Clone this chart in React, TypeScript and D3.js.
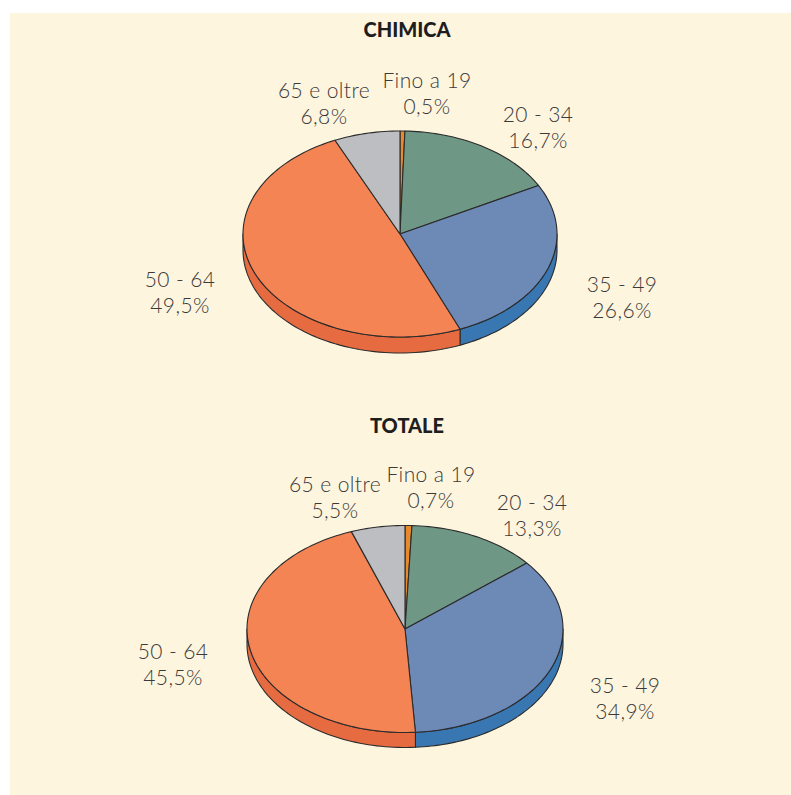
import React, { useEffect, useRef } from "react";
import * as d3 from "d3";

const categories = ["Fino a 19", "20 - 34", "35 - 49", "50 - 64", "65 e oltre"];
const chimicaValues = [0.5, 16.7, 26.6, 49.5, 6.8];
const totaleValues = [0.7, 13.3, 34.9, 45.5, 5.5];
const chimicaLabels = ["0,5%", "16,7%", "26,6%", "49,5%", "6,8%"];
const totaleLabels = ["0,7%", "13,3%", "34,9%", "45,5%", "5,5%"];

const TOP_COLORS = ["#E8892C", "#6F9786", "#6D8AB7", "#F58455", "#BDBEC1"];
const SIDE_COLORS = ["#D8741C", "#557C6B", "#3877B1", "#E66B40", "#9FA0A4"];
const STROKE = "#2b2b2b";

const WIDTH = 791;
const HEIGHT = 795;

type PieLayout = {
  title: string;
  titleY: number;
  cx: number;
  cy: number;
  rx: number;
  ry: number;
  depth: number;
  labelPos: [number, number][];
};

const PIES: PieLayout[] = [
  {
    title: "CHIMICA",
    titleY: 37,
    cx: 400,
    cy: 234,
    rx: 157,
    ry: 103,
    depth: 16,
    labelPos: [
      [427, 88],
      [538, 122],
      [622, 292],
      [180, 287],
      [324, 98],
    ],
  },
  {
    title: "TOTALE",
    titleY: 433,
    cx: 405,
    cy: 629,
    rx: 158,
    ry: 103.5,
    depth: 15,
    labelPos: [
      [431, 482],
      [532, 510],
      [625, 693],
      [173, 659],
      [335, 492],
    ],
  },
];

const SERIES = [
  { values: chimicaValues, labels: chimicaLabels },
  { values: totaleValues, labels: totaleLabels },
];

export default function App() {
  const svgRef = useRef<SVGSVGElement | null>(null);

  useEffect(() => {
    const svg = d3.select(svgRef.current);
    svg.selectAll("*").remove();

    svg
      .append("rect")
      .attr("x", 10)
      .attr("y", 13)
      .attr("width", WIDTH - 10)
      .attr("height", HEIGHT - 13)
      .attr("fill", "#FEF5DF");

    const pie = d3
      .pie<number>()
      .sort(null)
      .value((d) => d);

    PIES.forEach((layout, pi) => {
      const { cx, cy, rx, ry, depth } = layout;
      const series = SERIES[pi];
      const arcs = pie(series.values);

      // angle clockwise from 12 o'clock -> point on ellipse
      const pt = (a: number, dy = 0): [number, number] => [
        cx + rx * Math.sin(a),
        cy - ry * Math.cos(a) + dy,
      ];

      const g = svg.append("g");

      // side walls (front half only: angles between pi/2 and 3pi/2)
      arcs.forEach((a, i) => {
        const s = Math.max(a.startAngle, Math.PI / 2);
        const e = Math.min(a.endAngle, (3 * Math.PI) / 2);
        if (e <= s) return;
        const p = d3.path();
        const p0 = pt(s);
        const p1 = pt(e);
        const p1b = pt(e, depth);
        const p0b = pt(s, depth);
        p.moveTo(p0[0], p0[1]);
        const steps = 60;
        for (let k = 1; k <= steps; k++) {
          const t = s + ((e - s) * k) / steps;
          const q = pt(t);
          p.lineTo(q[0], q[1]);
        }
        p.lineTo(p1b[0], p1b[1]);
        for (let k = steps - 1; k >= 0; k--) {
          const t = s + ((e - s) * k) / steps;
          const q = pt(t, depth);
          p.lineTo(q[0], q[1]);
        }
        p.lineTo(p0b[0], p0b[1]);
        p.closePath();
        g.append("path")
          .attr("d", p.toString())
          .attr("fill", SIDE_COLORS[i])
          .attr("stroke", STROKE)
          .attr("stroke-width", 1.1)
          .attr("stroke-linejoin", "round");
      });

      // top faces
      arcs.forEach((a, i) => {
        const p = d3.path();
        p.moveTo(cx, cy);
        const steps = Math.max(4, Math.ceil(((a.endAngle - a.startAngle) / (2 * Math.PI)) * 240));
        for (let k = 0; k <= steps; k++) {
          const t = a.startAngle + ((a.endAngle - a.startAngle) * k) / steps;
          const q = pt(t);
          p.lineTo(q[0], q[1]);
        }
        p.closePath();
        g.append("path")
          .attr("d", p.toString())
          .attr("fill", TOP_COLORS[i])
          .attr("stroke", STROKE)
          .attr("stroke-width", 1.1)
          .attr("stroke-linejoin", "round");
      });

      // title
      svg
        .append("text")
        .attr("x", 407)
        .attr("y", layout.titleY)
        .attr("text-anchor", "middle")
        .attr("font-family", "Lato, 'DejaVu Sans', sans-serif")
        .attr("font-weight", 900)
        .attr("font-size", 20)
        .attr("fill", "#1e1e1e")
        .text(layout.title);

      // labels
      categories.forEach((c, i) => {
        const [lx, ly] = layout.labelPos[i];
        const t = svg
          .append("text")
          .attr("text-anchor", "middle")
          .attr("font-family", "Lato, 'Open Sans', sans-serif")
          .attr("font-weight", 300)
          .attr("font-size", 21)
          .attr("letter-spacing", 0.4)
          .attr("fill", "#3a3a3a");
        t.append("tspan").attr("x", lx).attr("y", ly).text(c);
        t.append("tspan")
          .attr("x", lx)
          .attr("y", ly + 26)
          .text(series.labels[i]);
      });
    });
  }, []);

  return (
    <svg
      ref={svgRef}
      width={WIDTH}
      height={HEIGHT}
      style={{ position: "absolute", left: 0, top: 0 }}
    />
  );
}
